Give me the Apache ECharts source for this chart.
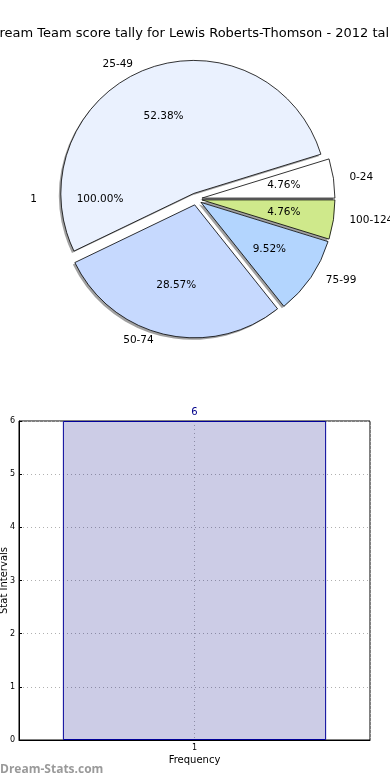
<!DOCTYPE html>
<html><head><meta charset="utf-8">
<script src="https://cdn.jsdelivr.net/npm/echarts@6/dist/echarts.min.js"></script>
<style>html,body{margin:0;padding:0;background:#fff}#c{width:390px;height:780px}</style>
</head><body><div id="c"></div>
<script>
const titleText = 'Dream Team score tally for Lewis Roberts-Thomson - 2012 tally';
const pieCategories = ['0-24', '25-49', '50-74', '75-99', '100-124'];
const pieValues = [1, 11, 6, 2, 1];
const pieColors = ['#ffffff', '#eaf1fe', '#c6d9fe', '#b3d5fe', '#cfe98b'];
const outerCategories = ['1'];
const outerValues = [1];
const barCategories = ['1'];
const barValues = [6];
const yAxisName = 'Stat Intervals';
const xAxisName = 'Frequency';
const watermark = 'Dream-Stats.com';

const FONT = 'DejaVu Sans';
const CX = 196, CY = 199, R = 133, OFF = 6;
const pieTotal = pieValues.reduce((a, b) => a + b, 0);
const outerTotal = outerValues.reduce((a, b) => a + b, 0);

const mkData = (withColor) => pieCategories.map((n, i) => ({
  name: n, value: pieValues[i], selected: true,
  itemStyle: withColor ? { color: pieColors[i] } : undefined
}));

const common = {
  type: 'pie', startAngle: 0, clockwise: false, selectedMode: 'multiple',
  selectedOffset: OFF, avoidLabelOverlap: false, silent: true,
  emphasis: { disabled: true }, labelLine: { show: false }
};

const chart = echarts.init(document.getElementById('c'), null, { renderer: 'canvas' });
chart.setOption({
  animation: false,
  textStyle: { fontFamily: FONT },
  title: {
    text: titleText, left: 'center', top: 22,
    textStyle: { fontFamily: FONT, fontSize: 13, fontWeight: 'normal', color: '#000' }
  },
  graphic: [{
    type: 'text', left: 0, top: 764,
    style: { text: watermark, fontFamily: 'Open Sans', fontSize: 12, fontWeight: 'bold', fill: '#9a9a9a' }
  }],
  grid: {
    left: 19, right: 20, top: 421, bottom: 40, containLabel: false, outerBoundsMode: 'none',
    show: true, borderColor: '#000', borderWidth: 1, backgroundColor: 'transparent'
  },
  xAxis: [{
    type: 'category', data: barCategories, position: 'bottom',
    axisLine: { lineStyle: { color: '#000' } }, axisTick: { show: false },
    axisLabel: { fontSize: 8, color: '#000', margin: 4, fontFamily: FONT },
    name: xAxisName, nameLocation: 'middle', nameGap: 15, nameMoveOverlap: false,
    nameTextStyle: { fontSize: 10, color: '#000', fontFamily: FONT },
    splitLine: { show: false }
  }, {
    type: 'value', min: 0, max: 2, interval: 1, position: 'top',
    axisLine: { show: false }, axisTick: { show: false }, axisLabel: { show: false },
    splitLine: { show: true, lineStyle: { color: '#b0b0b0', type: [1, 3], width: 1 } }
  }],
  yAxis: {
    type: 'value', min: 0, max: 6, interval: 1,
    axisLine: { show: true, lineStyle: { color: '#000' } },
    axisTick: { show: true, inside: true, length: 3, lineStyle: { color: '#000' } },
    axisLabel: { fontSize: 8, color: '#000', margin: 4, fontFamily: FONT },
    splitLine: { show: true, lineStyle: { color: '#b0b0b0', type: [1, 3], width: 1 } },
    name: yAxisName, nameLocation: 'middle', nameGap: 10, nameMoveOverlap: false,
    nameTextStyle: { fontSize: 10, color: '#000', fontFamily: FONT }
  },
  series: [
    Object.assign({}, common, {
      name: 'shadow', center: [CX - 2, CY + 2], radius: R, z: 1,
      data: mkData(false), itemStyle: { color: '#8a8a8a', opacity: 0.8 }, label: { show: false }
    }),
    Object.assign({}, common, {
      name: 'main', center: [CX, CY], radius: R, z: 2,
      data: mkData(true), itemStyle: { borderColor: '#000', borderWidth: 0.8 },
      label: {
        show: true, position: 'outside', formatter: '{b}', fontSize: 10.5, color: '#000',
        fontFamily: FONT, distanceToLabelLine: 10
      },
      labelLine: { show: false, length: 6, length2: 0 }
    }),
    Object.assign({}, common, {
      name: 'pct', center: [CX, CY], radius: R * 1.2, z: 3,
      data: mkData(false), itemStyle: { color: 'rgba(0,0,0,0)' },
      label: {
        show: true, position: 'inside', fontSize: 10.5, color: '#000', fontFamily: FONT,
        formatter: p => (p.value / pieTotal * 100).toFixed(2) + '%'
      }
    }),
    {
      type: 'pie', name: 'outer', center: [CX, CY], radius: R, z: 0, startAngle: 0, clockwise: false,
      silent: true, emphasis: { disabled: true }, avoidLabelOverlap: false,
      data: outerCategories.map((n, i) => ({ name: n, value: outerValues[i] })),
      itemStyle: { color: 'rgba(0,0,0,0)' },
      label: { show: true, position: 'outside', formatter: '{b}', fontSize: 10.5, color: '#000', fontFamily: FONT, distanceToLabelLine: 2 },
      labelLine: { show: false, length: 24, length2: 0 }
    },
    {
      type: 'pie', name: 'outerPct', center: [CX, CY], radius: 186, z: 3, startAngle: 0, clockwise: false,
      silent: true, emphasis: { disabled: true }, avoidLabelOverlap: false,
      data: outerCategories.map((n, i) => ({ name: n, value: outerValues[i] })),
      itemStyle: { color: 'rgba(0,0,0,0)' },
      label: {
        show: true, position: 'inside', fontSize: 10.5, color: '#000', fontFamily: FONT,
        formatter: p => (p.value / outerTotal * 100).toFixed(2) + '%'
      },
      labelLine: { show: false }
    },
    {
      type: 'bar', name: 'bar', xAxisIndex: 0, yAxisIndex: 0, data: barValues, barWidth: '75%',
      itemStyle: { color: 'rgba(0,0,128,0.2)', borderColor: '#000099', borderWidth: 1 },
      label: { show: true, position: 'top', distance: 4, color: '#00008b', fontSize: 10, fontFamily: FONT },
      silent: true
    }
  ]
});
</script></body></html>
